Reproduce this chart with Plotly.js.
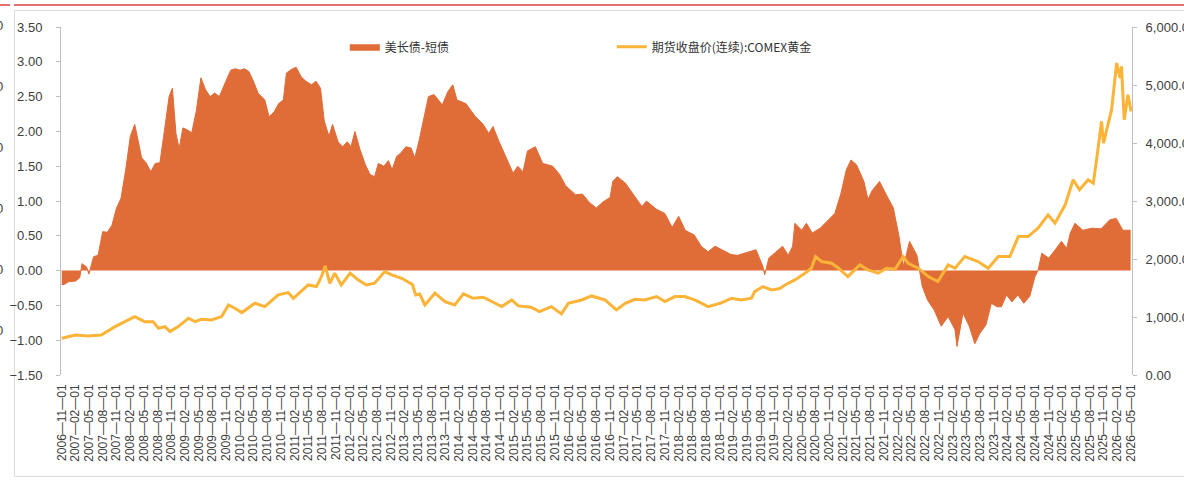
<!DOCTYPE html>
<html>
<head>
<meta charset="utf-8">
<script src="https://cdn.plot.ly/plotly-3.0.1.min.js"></script>
<style>
  body { margin: 0; background: #fff; }
  #frame { position: relative; width: 1184px; height: 480px; overflow: hidden; }
  #chart { position: absolute; left: 0; top: 0; width: 1184px; height: 480px; }
  .redTop { position: absolute; top: 4px; height: 2px; background: #e46f6f; }
  .greyTop { position: absolute; left: 14px; right: 0; top: 10px; height: 1px; background: #dcdcdc; }
  .greyLeft { position: absolute; left: 14px; top: 10px; bottom: 3px; width: 1px; background: #dcdcdc; }
  .greyBottom { position: absolute; left: 14px; right: 0; bottom: 3px; height: 1px; background: #dcdcdc; }
  .cut { position: absolute; left: -4px; font: 13px "Liberation Sans", sans-serif; color: #404040; line-height: 14px; }
</style>
</head>
<body>
<div id="frame">
  <div class="redTop" style="left:0;width:10px"></div>
  <div class="redTop" style="left:14px;right:0"></div>
  <div class="greyTop"></div>
  <div class="greyLeft"></div>
  <div class="greyBottom"></div>
  <div class="cut" style="top:19px">0</div>
  <div class="cut" style="top:80px">0</div>
  <div class="cut" style="top:141px">0</div>
  <div class="cut" style="top:202px">0</div>
  <div class="cut" style="top:263px">0</div>
  <div class="cut" style="top:324px">0</div>
  <div id="chart"></div>
</div>
<script>
// ===============================
// DATA
// ===============================

// 美长债-短债 (left axis)
let spreadDates = [
  '2006-11-01','2006-11-16','2006-12-16','2007-02-01','2007-03-01','2007-03-16','2007-04-16','2007-05-01',
  '2007-06-01','2007-07-01','2007-08-01','2007-09-01','2007-10-01','2007-11-01','2007-12-01','2008-01-01',
  '2008-02-01','2008-03-01','2008-03-16','2008-04-16','2008-05-16','2008-06-16','2008-07-16','2008-08-16',
  '2008-09-10','2008-10-16','2008-11-07','2008-12-01','2008-12-22','2009-01-16','2009-02-16','2009-03-16',
  '2009-04-16','2009-05-16','2009-06-16','2009-07-16','2009-08-16','2009-09-16','2009-10-25','2009-12-01',
  '2010-01-01','2010-02-01','2010-03-01','2010-04-01','2010-05-01','2010-06-01','2010-07-16','2010-08-13',
  '2010-09-16','2010-10-16','2010-11-16','2010-12-07','2011-01-16','2011-02-10','2011-03-16','2011-04-16',
  '2011-05-22','2011-06-22','2011-07-22','2011-08-16','2011-09-16','2011-10-10','2011-11-16','2011-12-16',
  '2012-01-16','2012-02-10','2012-03-07','2012-04-10','2012-05-16','2012-06-16','2012-07-16','2012-08-10',
  '2012-09-16','2012-10-16','2012-11-10','2012-12-10','2013-01-07','2013-02-10','2013-03-16','2013-04-10',
  '2013-05-10','2013-06-10','2013-07-10','2013-08-16','2013-09-16','2013-10-10','2013-11-16','2013-12-19',
  '2014-01-16','2014-03-16','2014-05-16','2014-07-10','2014-08-16','2014-09-13','2014-10-22','2014-12-10',
  '2015-01-25','2015-02-25','2015-04-01','2015-05-01','2015-06-22','2015-08-10','2015-10-16','2015-12-01',
  '2016-01-10','2016-03-16','2016-05-01','2016-06-16','2016-08-01','2016-09-16','2016-11-01','2016-11-19',
  '2016-12-19','2017-02-10','2017-04-16','2017-06-01','2017-07-01','2017-09-07','2017-11-01','2017-12-19',
  '2018-02-01','2018-03-16','2018-05-16','2018-07-01','2018-08-16','2018-10-01','2018-11-16','2019-01-16',
  '2019-03-01','2019-04-16','2019-07-01','2019-08-16','2019-08-28','2019-09-25','2019-11-01','2019-12-25',
  '2020-02-01','2020-03-01','2020-03-16','2020-05-01','2020-06-01','2020-07-10','2020-09-01','2020-10-25',
  '2020-12-07','2021-01-16','2021-02-22','2021-03-25','2021-05-01','2021-06-19','2021-07-16','2021-08-13',
  '2021-10-01','2021-11-22','2022-01-01','2022-02-07','2022-03-10','2022-04-19','2022-06-07','2022-07-13',
  '2022-08-16','2022-10-01','2022-11-16','2023-01-01','2023-02-16','2023-03-01','2023-04-10','2023-05-22',
  '2023-06-28','2023-08-01','2023-09-10','2023-10-16','2023-11-22','2023-12-22','2024-01-25','2024-03-01',
  '2024-04-10','2024-05-19','2024-06-28','2024-08-01','2024-08-22','2024-09-16','2024-11-01','2024-12-22',
  '2025-01-25','2025-03-01','2025-03-25','2025-04-25','2025-06-16','2025-08-16','2025-10-16','2025-12-13',
  '2026-01-25','2026-03-10','2026-05-01'
];

let spreadValues = [
  -0.20,-0.20,-0.16,-0.15,-0.10,0.10,0.05,-0.05,
  0.20,0.22,0.56,0.55,0.65,0.90,1.04,1.45,
  1.93,2.10,1.95,1.62,1.55,1.42,1.54,1.55,
  1.93,2.50,2.62,1.97,1.75,2.05,2.02,1.98,
  2.30,2.77,2.60,2.50,2.55,2.50,2.70,2.88,
  2.90,2.88,2.90,2.86,2.72,2.55,2.45,2.21,
  2.28,2.40,2.45,2.84,2.90,2.92,2.78,2.72,
  2.67,2.72,2.62,2.15,1.93,2.10,1.85,1.78,
  1.85,1.78,2.00,1.74,1.52,1.38,1.35,1.54,
  1.50,1.58,1.45,1.64,1.69,1.78,1.76,1.62,
  1.88,2.20,2.50,2.53,2.45,2.38,2.57,2.67,
  2.45,2.40,2.22,2.10,1.97,2.07,1.86,1.62,
  1.40,1.50,1.42,1.72,1.78,1.54,1.50,1.38,
  1.22,1.09,1.10,0.98,0.90,0.99,1.05,1.28,
  1.35,1.26,1.07,0.92,1.00,0.88,0.82,0.62,
  0.78,0.58,0.51,0.35,0.27,0.35,0.30,0.23,
  0.22,0.25,0.30,0.06,-0.06,0.18,0.25,0.35,
  0.22,0.35,0.68,0.58,0.68,0.54,0.61,0.73,
  0.82,1.10,1.45,1.59,1.52,1.28,1.02,1.15,
  1.28,1.06,0.90,0.50,0.06,0.42,0.22,-0.23,
  -0.42,-0.57,-0.80,-0.66,-0.85,-1.09,-0.61,-0.80,
  -1.05,-0.90,-0.78,-0.47,-0.52,-0.52,-0.35,-0.45,
  -0.35,-0.47,-0.37,-0.09,0.00,0.25,0.18,0.32,
  0.42,0.32,0.54,0.68,0.58,0.61,0.60,0.73,
  0.75,0.58,0.58
];

// 期货收盘价(连续):COMEX黄金 (right axis)
let goldDates = [
  '2006-11-01','2007-02-01','2007-04-25','2007-07-22','2007-10-22','2007-12-28','2008-03-01','2008-05-07',
  '2008-07-01','2008-08-07','2008-09-19','2008-10-22','2008-12-16','2009-02-22','2009-04-07','2009-05-19',
  '2009-07-25','2009-10-01','2009-11-16','2009-12-28','2010-02-13','2010-05-10','2010-07-16','2010-10-13',
  '2010-12-19','2011-01-22','2011-03-16','2011-05-01','2011-06-25','2011-07-28','2011-08-22','2011-09-22',
  '2011-10-25','2011-12-07','2012-02-04','2012-03-28','2012-05-22','2012-07-16','2012-09-22','2012-11-07',
  '2013-01-13','2013-03-07','2013-03-25','2013-04-16','2013-05-13','2013-06-16','2013-08-22','2013-10-28',
  '2014-01-01','2014-02-28','2014-05-04','2014-07-10','2014-09-25','2014-11-10','2015-01-16','2015-02-28',
  '2015-05-25','2015-07-19','2015-10-07','2015-12-13','2016-01-28','2016-04-25','2016-07-01','2016-08-25',
  '2016-09-28','2016-12-13','2017-02-10','2017-04-16','2017-06-19','2017-09-07','2017-11-01','2018-01-07',
  '2018-03-13','2018-05-19','2018-08-16','2018-11-04','2019-01-19','2019-03-25','2019-06-01','2019-06-22',
  '2019-08-16','2019-10-13','2019-12-07','2020-01-10','2020-03-16','2020-05-22','2020-07-04','2020-08-01',
  '2020-09-10','2020-11-16','2021-01-01','2021-03-04','2021-05-22','2021-07-16','2021-09-22','2021-11-16',
  '2022-01-13','2022-03-07','2022-04-10','2022-06-16','2022-08-22','2022-10-25','2023-01-01','2023-02-16',
  '2023-04-22','2023-07-19','2023-09-25','2023-12-01','2024-02-16','2024-04-13','2024-06-16','2024-08-22',
  '2024-10-28','2024-12-13','2025-02-19','2025-04-13','2025-05-25','2025-07-22','2025-08-25','2025-09-16',
  '2025-10-19','2025-11-01','2025-12-25','2026-01-28','2026-02-19','2026-03-01','2026-03-19','2026-04-13',
  '2026-05-04'
];

let goldValues = [
  633,690,673,690,834,920,1007,920,
  920,805,834,748,834,978,920,960,
  949,1007,1208,1150,1076,1237,1179,1381,
  1421,1323,1438,1553,1525,1697,1881,1582,
  1755,1553,1755,1640,1553,1582,1783,1726,
  1668,1582,1560,1380,1395,1208,1410,1266,
  1208,1398,1323,1340,1237,1179,1294,1191,
  1168,1093,1179,1053,1237,1294,1363,1323,
  1294,1122,1237,1306,1294,1352,1266,1352,
  1352,1294,1179,1237,1323,1294,1323,1438,
  1525,1467,1490,1553,1640,1755,1841,2042,
  1956,1927,1841,1697,1898,1812,1755,1841,
  1824,2042,1927,1841,1697,1611,1898,1841,
  2042,1956,1841,2042,2042,2387,2387,2531,
  2761,2618,2934,3366,3193,3366,3308,3711,
  4372,3998,4574,5379,5120,5322,4401,4832,
  4545
];

let spreadName = '美长债-短债';
let goldName = '期货收盘价(连续):COMEX黄金';

// ===============================
// CHART
// ===============================

let axisFont = {
  family: '"Liberation Sans", Arial, sans-serif',
  size: 13,
  color: '#404040'
};

let xRange = ['2006-10-27', '2026-05-10'];

Plotly.newPlot('chart',

[

{
    x: spreadDates,
    y: spreadValues,
    name: spreadName,
    type: 'scatter',
    mode: 'lines',
    fill: 'tozeroy',
    fillcolor: '#e06c37',
    line: {
        color: '#e06c37',
        width: 1
    },
    hoverinfo: 'skip'
},

{
    x: goldDates,
    y: goldValues,
    name: goldName,
    type: 'scatter',
    mode: 'lines',
    yaxis: 'y2',
    line: {
        color: '#fbb437',
        width: 3
    },
    hoverinfo: 'skip'
}

],

{
    width: 1184,
    height: 480,

    margin: { l: 61, r: 52, t: 27, b: 105 },

    paper_bgcolor: 'rgba(0,0,0,0)',
    plot_bgcolor: 'rgba(0,0,0,0)',

    showlegend: true,

    legend: {
        orientation: 'h',
        x: 0.265,
        xanchor: 'left',
        y: 0.943,
        yanchor: 'middle',
        entrywidth: 222,
        entrywidthmode: 'pixels',
        bgcolor: 'rgba(0,0,0,0)',
        font: {
            family: '"Noto Sans CJK SC", sans-serif',
            size: 12,
            color: '#333333'
        }
    },

    xaxis: {
        type: 'date',
        range: xRange,
        tick0: '2006-11-01',
        dtick: 'M3',
        tickformat: '%Y—%m—%d',
        tickangle: -90,
        ticks: '',
        showline: false,
        showgrid: false,
        zeroline: false,
        ticklabelstandoff: 6,
        tickfont: {
            family: '"Liberation Sans", Arial, sans-serif',
            size: 12,
            color: '#404040'
        }
    },

    xaxis2: {
        type: 'date',
        range: xRange,
        overlaying: 'x',
        anchor: 'free',
        position: 0.3,
        tick0: '2006-11-01',
        dtick: 'M3',
        ticks: 'outside',
        ticklen: 4,
        tickcolor: '#c8c8c8',
        showticklabels: false,
        showline: true,
        linecolor: '#eba88c',
        linewidth: 2,
        showgrid: false,
        zeroline: false
    },

    yaxis: {
        range: [-1.5, 3.5],
        dtick: 0.5,
        tickformat: '.2f',
        showgrid: false,
        zeroline: false,
        showline: true,
        linecolor: '#bfbfbf',
        ticks: 'outside',
        ticklen: 4,
        tickcolor: '#bfbfbf',
        ticklabelstandoff: 11,
        tickfont: axisFont
    },

    yaxis2: {
        range: [0, 6000],
        dtick: 1000,
        tickformat: ',.2f',
        overlaying: 'y',
        side: 'right',
        showgrid: false,
        zeroline: false,
        showline: true,
        linecolor: '#bfbfbf',
        ticks: 'outside',
        ticklen: 4,
        tickcolor: '#bfbfbf',
        ticklabelstandoff: 6,
        tickfont: axisFont
    }
},

{
    displayModeBar: false,
    staticPlot: true
});
</script>
</body>
</html>
